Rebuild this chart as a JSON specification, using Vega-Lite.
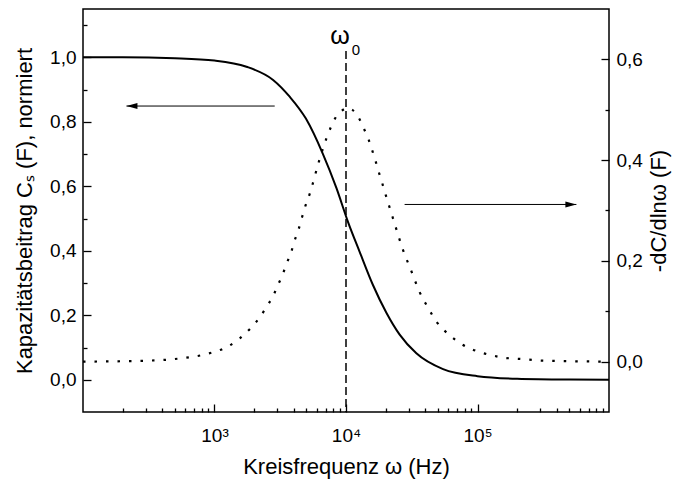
{
  "$schema": "https://vega.github.io/schema/vega-lite/v6.json",
  "width": 526,
  "height": 403,
  "autosize": {"type": "none"},
  "padding": {"left": 83, "top": 9, "right": 68, "bottom": 74},
  "background": "white",
  "config": {
    "view": {"stroke": "black", "strokeWidth": 1.5},
    "font": "Liberation Sans",
    "axis": {
      "domain": false,
      "grid": false,
      "tickColor": "black",
      "tickWidth": 1.3,
      "labelColor": "black",
      "titleColor": "black",
      "labelFont": "Liberation Sans",
      "titleFont": "Liberation Sans",
      "labelFontSize": 19,
      "titleFontSize": 22,
      "titleFontWeight": "normal"
    }
  },
  "datasets": {
    "cs": [
      {"w": 100, "C": 1.0},
      {"w": 200, "C": 1.0},
      {"w": 500, "C": 0.997},
      {"w": 1000, "C": 0.99},
      {"w": 1750, "C": 0.971},
      {"w": 2790, "C": 0.93},
      {"w": 3730, "C": 0.878},
      {"w": 4955, "C": 0.81},
      {"w": 6680, "C": 0.7},
      {"w": 8450, "C": 0.595},
      {"w": 10350, "C": 0.49},
      {"w": 12700, "C": 0.397},
      {"w": 16030, "C": 0.294},
      {"w": 20280, "C": 0.208},
      {"w": 25590, "C": 0.14},
      {"w": 34280, "C": 0.082},
      {"w": 54700, "C": 0.033},
      {"w": 100000, "C": 0.011},
      {"w": 200000, "C": 0.003},
      {"w": 500000, "C": 0.0005},
      {"w": 1000000, "C": 0.0}
    ],
    "dc": [
      {"w": 100, "D": 0.0},
      {"w": 316, "D": 0.002},
      {"w": 575, "D": 0.007},
      {"w": 867, "D": 0.015},
      {"w": 1282, "D": 0.031},
      {"w": 1556, "D": 0.046},
      {"w": 1875, "D": 0.066},
      {"w": 2208, "D": 0.088},
      {"w": 2506, "D": 0.11},
      {"w": 2786, "D": 0.13},
      {"w": 3041, "D": 0.152},
      {"w": 3319, "D": 0.175},
      {"w": 3556, "D": 0.196},
      {"w": 3846, "D": 0.219},
      {"w": 4074, "D": 0.241},
      {"w": 4365, "D": 0.263},
      {"w": 4624, "D": 0.286},
      {"w": 4909, "D": 0.309},
      {"w": 5297, "D": 0.333},
      {"w": 6237, "D": 0.398},
      {"w": 7096, "D": 0.443},
      {"w": 8453, "D": 0.487},
      {"w": 9660, "D": 0.501},
      {"w": 10300, "D": 0.504},
      {"w": 11170, "D": 0.5},
      {"w": 12560, "D": 0.483},
      {"w": 13710, "D": 0.462},
      {"w": 14890, "D": 0.44},
      {"w": 15890, "D": 0.418},
      {"w": 16830, "D": 0.397},
      {"w": 17820, "D": 0.375},
      {"w": 18920, "D": 0.353},
      {"w": 20040, "D": 0.331},
      {"w": 21230, "D": 0.31},
      {"w": 22540, "D": 0.288},
      {"w": 23880, "D": 0.267},
      {"w": 26850, "D": 0.225},
      {"w": 31050, "D": 0.183},
      {"w": 36310, "D": 0.138},
      {"w": 42070, "D": 0.107},
      {"w": 49200, "D": 0.078},
      {"w": 59700, "D": 0.055},
      {"w": 75510, "D": 0.035},
      {"w": 98200, "D": 0.021},
      {"w": 131200, "D": 0.012},
      {"w": 156300, "D": 0.008},
      {"w": 219300, "D": 0.005},
      {"w": 314800, "D": 0.002},
      {"w": 1000000, "D": 0.0}
    ],
    "vline": [{"w": 10000, "top": 1.02, "bottom": -0.1}],
    "arrowL": [
      {"w": 2870, "v": 0.849, "part": "tail"},
      {"w": 214, "v": 0.849, "part": "tip"}
    ],
    "arrowR": [
      {"w": 27900, "v": 0.312, "part": "tail"},
      {"w": 565000, "v": 0.312, "part": "tip"}
    ],
    "omega": [{"w": 10000, "v": 1.066, "t": "ω"}],
    "omega0": [{"w": 10000, "v": 1.024, "t": "0"}]
  },
  "layer": [
    {
      "data": {"name": "cs"},
      "mark": {"type": "line", "color": "black", "strokeWidth": 2, "interpolate": "monotone"},
      "encoding": {
        "x": {
          "field": "w", "type": "quantitative",
          "scale": {"type": "log", "domain": [100, 1000000], "nice": false},
          "axis": {
            "orient": "bottom",
            "values": [1000, 10000, 100000],
            "tickSize": -8,
            "labelPadding": 22,
            "labelExpr": "datum.value == 1000 ? '10³' : datum.value == 10000 ? '10⁴' : '10⁵'",
            "title": "Kreisfrequenz ω (Hz)",
            "titlePadding": 11
          }
        },
        "y": {
          "field": "C", "type": "quantitative",
          "scale": {"domain": [-0.1, 1.15], "nice": false, "zero": false},
          "axis": {
            "orient": "left",
            "values": [0, 0.2, 0.4, 0.6, 0.8, 1.0],
            "tickSize": -8,
            "labelPadding": 15,
            "labelExpr": "replace(format(datum.value, '.1f'), '.', ',')",
            "title": "Kapazitätsbeitrag Cₛ (F), normiert",
            "titlePadding": 13
          }
        }
      }
    },
    {
      "data": {"name": "vline"},
      "mark": {"type": "rule", "color": "black", "strokeWidth": 1.5, "strokeDash": [8, 4]},
      "encoding": {
        "x": {
          "field": "w", "type": "quantitative",
          "axis": {
            "orient": "bottom",
            "values": [200, 300, 400, 500, 600, 700, 800, 900, 2000, 3000, 4000, 5000, 6000, 7000, 8000, 9000, 20000, 30000, 40000, 50000, 60000, 70000, 80000, 90000, 200000, 300000, 400000, 500000, 600000, 700000, 800000, 900000],
            "tickSize": -4,
            "labels": false,
            "title": null
          }
        },
        "y": {
          "field": "top", "type": "quantitative",
          "scale": {"domain": [-0.1, 1.15], "nice": false, "zero": false},
          "axis": {
            "orient": "left",
            "values": [0.1, 0.3, 0.5, 0.7, 0.9, 1.1],
            "tickSize": -4,
            "labels": false,
            "title": null
          }
        },
        "y2": {"field": "bottom"}
      }
    },
    {
      "data": {"name": "dc"},
      "mark": {"type": "line", "color": "black", "strokeWidth": 2.2, "strokeDash": [2.5, 9], "interpolate": "monotone"},
      "encoding": {
        "x": {"field": "w", "type": "quantitative", "axis": null},
        "y": {
          "field": "D", "type": "quantitative",
          "scale": {"domain": [-0.1, 0.7], "nice": false, "zero": false},
          "axis": {
            "orient": "right",
            "values": [0, 0.2, 0.4, 0.6],
            "tickSize": -8,
            "labelPadding": 15,
            "labelExpr": "replace(format(datum.value, '.1f'), '.', ',')",
            "title": "-dC/dlnω (F)",
            "titleAngle": 270,
            "titleBaseline": "top",
            "titlePadding": 6
          }
        }
      }
    },
    {
      "data": {"name": "arrowR"},
      "mark": {"type": "line", "color": "black", "strokeWidth": 1},
      "encoding": {
        "x": {"field": "w", "type": "quantitative", "axis": null},
        "y": {
          "field": "v", "type": "quantitative",
          "scale": {"domain": [-0.1, 0.7], "nice": false, "zero": false},
          "axis": {
            "orient": "right",
            "values": [0.1, 0.3, 0.5],
            "tickSize": -4,
            "labels": false,
            "title": null
          }
        }
      }
    },
    {
      "data": {"name": "arrowR"},
      "transform": [{"filter": "datum.part == 'tip'"}],
      "mark": {"type": "point", "shape": "M0,0L-1,-0.27L-1,0.27Z", "size": 484, "filled": true, "color": "black", "opacity": 1},
      "encoding": {
        "x": {"field": "w", "type": "quantitative", "axis": null},
        "y": {
          "field": "v", "type": "quantitative",
          "scale": {"domain": [-0.1, 0.7], "nice": false, "zero": false},
          "axis": null
        }
      }
    },
    {
      "data": {"name": "arrowL"},
      "mark": {"type": "line", "color": "black", "strokeWidth": 1},
      "encoding": {
        "x": {"field": "w", "type": "quantitative", "axis": null},
        "y": {
          "field": "v", "type": "quantitative",
          "scale": {"domain": [-0.1, 1.15], "nice": false, "zero": false},
          "axis": null
        }
      }
    },
    {
      "data": {"name": "arrowL"},
      "transform": [{"filter": "datum.part == 'tip'"}],
      "mark": {"type": "point", "shape": "M0,0L1,-0.27L1,0.27Z", "size": 484, "filled": true, "color": "black", "opacity": 1},
      "encoding": {
        "x": {"field": "w", "type": "quantitative", "axis": null},
        "y": {
          "field": "v", "type": "quantitative",
          "scale": {"domain": [-0.1, 1.15], "nice": false, "zero": false},
          "axis": null
        }
      }
    },
    {
      "data": {"name": "omega"},
      "mark": {"type": "text", "fontSize": 25, "font": "Liberation Sans", "color": "black", "dx": -6, "baseline": "middle", "align": "center"},
      "encoding": {
        "x": {"field": "w", "type": "quantitative", "axis": null},
        "y": {
          "field": "v", "type": "quantitative",
          "scale": {"domain": [-0.1, 1.15], "nice": false, "zero": false},
          "axis": null
        },
        "text": {"field": "t"}
      }
    },
    {
      "data": {"name": "omega0"},
      "mark": {"type": "text", "fontSize": 15, "font": "Liberation Sans", "color": "black", "dx": 10, "baseline": "middle", "align": "center"},
      "encoding": {
        "x": {"field": "w", "type": "quantitative", "axis": null},
        "y": {
          "field": "v", "type": "quantitative",
          "scale": {"domain": [-0.1, 1.15], "nice": false, "zero": false},
          "axis": null
        },
        "text": {"field": "t"}
      }
    }
  ],
  "resolve": {
    "scale": {"y": "independent"},
    "axis": {"x": "independent", "y": "independent"}
  }
}
